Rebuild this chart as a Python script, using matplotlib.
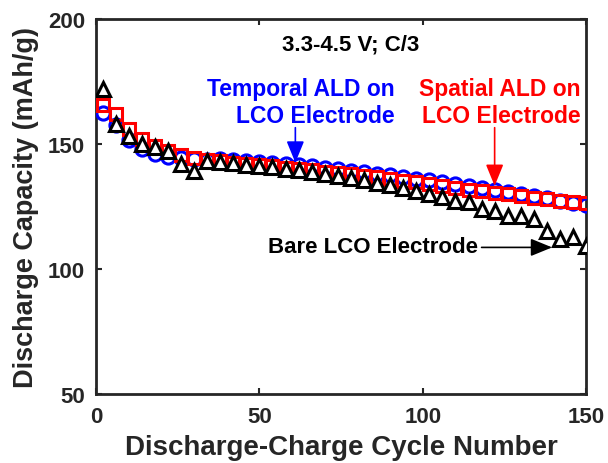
import matplotlib
matplotlib.use("Agg")
import matplotlib.pyplot as plt

# cycle numbers where markers are drawn
cycles = list(range(2, 151, 4))

# Temporal ALD on LCO (blue circles)
temporal = [162.5, 157.5, 151.5, 148.0, 146.0, 144.8, 144.2, 143.8, 143.5, 144.0,
            143.6, 143.2, 142.8, 142.4, 142.0, 141.5, 141.0, 140.4, 139.8, 139.2,
            138.6, 138.0, 137.4, 136.7, 136.0, 135.4, 134.7, 134.0, 133.2, 132.4,
            131.6, 130.8, 130.0, 129.1, 128.2, 127.3, 126.4, 125.6]

# Spatial ALD on LCO (red squares)
spatial = [165.5, 162.0, 156.0, 152.0, 149.3, 147.0, 145.5, 144.3, 143.5, 143.0,
           142.5, 142.0, 141.5, 141.0, 140.4, 139.9, 139.4, 138.8, 138.3, 137.8,
           137.2, 136.6, 136.0, 135.3, 134.6, 133.8, 133.0, 132.2, 131.6, 131.0,
           130.4, 129.8, 129.2, 128.5, 127.9, 127.3, 126.8, 126.2]

# Bare LCO (black triangles)
bare = [172.0, 158.0, 153.3, 150.0, 148.9, 147.1, 142.0, 139.3, 143.1, 142.7,
        142.2, 141.7, 141.2, 140.6, 140.0, 139.4, 138.7, 138.0, 137.3, 136.4,
        135.5, 134.5, 133.5, 132.4, 131.2, 130.0, 128.7, 127.3, 126.7, 124.0,
        123.3, 121.3, 121.3, 120.0, 115.3, 112.0, 112.7, 109.3]

xticks = [0, 50, 100, 150]
yticks = [50, 100, 150, 200]

plt.rcParams["font.family"] = ["Liberation Sans", "DejaVu Sans"]
plt.rcParams["font.weight"] = "bold"
dark = "#262626"

fig = plt.figure(figsize=(6.08, 4.64), dpi=100)
ax = fig.add_axes([0.158, 0.149, 0.806, 0.808])

ax.plot(cycles, temporal, "o", ms=9.5, mfc="none", mec="#0000ff", mew=2.2, zorder=3)
ax.plot(cycles, spatial, "s", ms=8.5, mfc="none", mec="#ff0000", mew=2.2, zorder=4)
ax.plot(cycles, bare, "^", ms=10.5, mfc="white", mec="black", mew=2.2, zorder=5)

ax.set_xlim(0, 150)
ax.set_ylim(50, 200)
ax.set_xticks(xticks)
ax.set_yticks(yticks)
ax.tick_params(direction="in", length=4, width=1.5, top=True, right=True,
               labelsize=16, colors=dark)
ax.tick_params(axis="x", pad=9)
ax.tick_params(axis="y", pad=8)
for lab in ax.get_xticklabels() + ax.get_yticklabels():
    lab.set_fontweight("bold")
for sp in ax.spines.values():
    sp.set_linewidth(2)
    sp.set_color(dark)

ax.set_xlabel("Discharge-Charge Cycle Number", fontsize=20, fontweight="bold",
              color=dark, labelpad=5)
ax.set_ylabel("Discharge Capacity (mAh/g)", fontsize=19.5, fontweight="bold",
              color=dark, labelpad=6)

ax.text(78, 190, "3.3-4.5 V; C/3", fontsize=16, fontweight="bold", color="black",
        ha="center", va="center")
ax.text(91.5, 166.7, "Temporal ALD on\nLCO Electrode", fontsize=16.5,
        fontweight="bold", color="#0000ff", ha="right", va="center",
        multialignment="right", linespacing=1.2)
ax.text(148.2, 166.7, "Spatial ALD on\nLCO Electrode", fontsize=16.5,
        fontweight="bold", color="#ff0000", ha="right", va="center",
        multialignment="right", linespacing=1.2)
ax.text(117, 108.8, "Bare LCO Electrode", fontsize=16, fontweight="bold",
        color="black", ha="right", va="center")

arrow = "-|>,head_length=1.1,head_width=0.45"
ax.annotate("", xy=(61, 142.5), xytext=(61, 156.5),
            arrowprops=dict(arrowstyle=arrow, color="#0000ff", lw=1.2,
                            mutation_scale=12, shrinkA=0, shrinkB=0))
ax.annotate("", xy=(122, 133.2), xytext=(122, 156.5),
            arrowprops=dict(arrowstyle=arrow, color="#ff0000", lw=1.2,
                            mutation_scale=12, shrinkA=0, shrinkB=0))
ax.annotate("", xy=(139.6, 108.6), xytext=(118, 108.6),
            arrowprops=dict(arrowstyle=arrow, color="black", lw=1.2,
                            mutation_scale=12, shrinkA=0, shrinkB=0), zorder=6)

fig.savefig("out.png", dpi=100)
